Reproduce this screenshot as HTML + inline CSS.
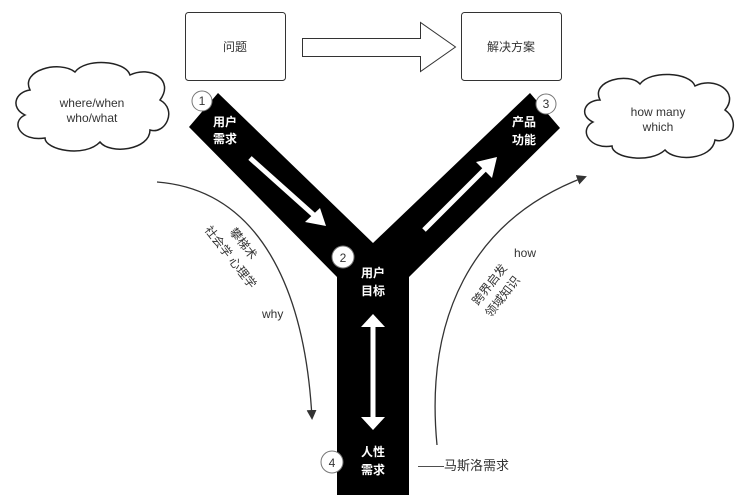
<!DOCTYPE html>
<html><head><meta charset="utf-8"><style>
body{margin:0;background:#fff}
svg{display:block}
text{font-family:"Liberation Sans","Noto Sans CJK SC",sans-serif}
</style></head><body>
<svg width="747" height="498" viewBox="0 0 747 498" xmlns="http://www.w3.org/2000/svg">
<defs>
<marker id="ah" markerWidth="10" markerHeight="10" refX="8" refY="5" orient="auto" markerUnits="userSpaceOnUse">
<path d="M0,0 L10,5 L0,10 Z" fill="#333"/></marker>
</defs>
<rect x="185.5" y="12.5" width="100" height="68" rx="3" fill="#fff" stroke="#333"/>
<text x="235" y="51" font-size="12" text-anchor="middle" fill="#333">问题</text>
<rect x="461.5" y="12.5" width="100" height="68" rx="3" fill="#fff" stroke="#333"/>
<text x="511" y="51" font-size="12" text-anchor="middle" fill="#333">解决方案</text>
<path d="M302.5,38.5 L420.5,38.5 L420.5,22.5 L455.5,47 L420.5,71.5 L420.5,56.5 L302.5,56.5 Z" fill="#fff" stroke="#333"/>
<path d="M30,90 C20,70 60,60 75,72 C85,58 125,60 130,75 C150,65 175,80 160,100 C178,110 165,135 150,130 C150,150 110,155 100,142 C85,158 45,150 45,138 C20,142 10,122 25,115 C10,108 15,92 30,90 Z" fill="#fff" stroke="#222" stroke-width="1.5"/>
<text x="92" y="107" font-size="12" text-anchor="middle" fill="#333">where/when</text>
<text x="92" y="122" font-size="12" text-anchor="middle" fill="#333">who/what</text>
<path d="M600,100 C590,80 630,72 640,84 C650,70 690,72 695,86 C715,76 740,92 725,110 C742,122 730,145 715,140 C712,160 675,162 665,150 C650,164 612,158 612,146 C590,150 578,130 593,122 C578,115 585,100 600,100 Z" fill="#fff" stroke="#222" stroke-width="1.5"/>
<text x="658" y="116" font-size="12" text-anchor="middle" fill="#333">how many</text>
<text x="658" y="131" font-size="12" text-anchor="middle" fill="#333">which</text>
<path d="M189,127 L218,93 L373,243 L530,93 L560,128 L409,277 L409,495 L337,495 L337,277 Z" fill="#000"/>
<line x1="250" y1="158" x2="316" y2="217" stroke="#fff" stroke-width="5"/>
<path d="M326,226 L305,222 L320,208 Z" fill="#fff"/>
<line x1="424" y1="230" x2="487" y2="167" stroke="#fff" stroke-width="5"/>
<path d="M497,157 L492,178 L476,162 Z" fill="#fff"/>
<line x1="373" y1="325" x2="373" y2="420" stroke="#fff" stroke-width="5"/>
<path d="M373,314 L361,327 L385,327 Z" fill="#fff"/>
<path d="M373,430 L361,417 L385,417 Z" fill="#fff"/>
<g font-size="12" font-weight="bold" fill="#fff" text-anchor="middle">
<text x="225" y="126">用户</text><text x="225" y="143">需求</text>
<text x="373" y="277">用户</text><text x="373" y="295">目标</text>
<text x="524" y="126">产品</text><text x="524" y="144">功能</text>
<text x="373" y="456">人性</text><text x="373" y="474">需求</text>
</g>
<g fill="#fff" stroke="#777" stroke-width="1">
<circle cx="202" cy="101" r="10"/><circle cx="343" cy="257" r="11"/>
<circle cx="546" cy="104" r="10"/><circle cx="332" cy="462" r="11"/>
</g>
<g font-size="12" fill="#333" text-anchor="middle">
<text x="202" y="105">1</text><text x="343" y="262">2</text>
<text x="546" y="108">3</text><text x="332" y="467">4</text>
</g>
<path d="M157,182 C260,190 305,290 312,418" fill="none" stroke="#333" stroke-width="1.3" marker-end="url(#ah)"/>
<path d="M437,445 C425,320 470,220 585,177" fill="none" stroke="#333" stroke-width="1.3" marker-end="url(#ah)"/>
<g font-size="12" fill="#333">
<text transform="translate(229,232) rotate(52)">攀梯术</text>
<text transform="translate(204,230) rotate(52)">社会学 心理学</text>
<text x="262" y="318">why</text>
<text x="514" y="257">how</text>
<text transform="translate(478,306) rotate(-52)">跨界启发</text>
<text transform="translate(491,318) rotate(-52)">领域知识</text>
<text x="418" y="470" font-size="13">——马斯洛需求</text>
</g>
</svg>
</body></html>
